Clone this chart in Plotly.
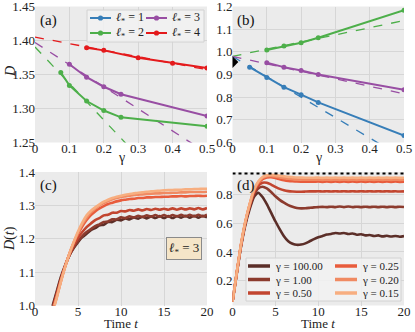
import numpy as np
import plotly.graph_objects as go
from plotly.subplots import make_subplots

# ---------------- panel (a): D vs gamma ----------------
a_gamma_l2 = [0.075, 0.1, 0.15, 0.2, 0.25, 0.5]
a_D_l2 = [1.353, 1.334, 1.311, 1.297, 1.287, 1.274]
a_gamma_l3 = [0.1, 0.15, 0.2, 0.25, 0.5]
a_D_l3 = [1.365, 1.346, 1.332, 1.321, 1.289]
a_gamma_l4 = [0.15, 0.2, 0.3, 0.4, 0.5]
a_D_l4 = [1.3895, 1.3855, 1.3746, 1.3667, 1.3597]
# dashed small-gamma fits, given at gamma = 0 and gamma = 0.5
fit_gamma = [0, 0.5]
a_fit_l2 = [1.3905, 1.122]
a_fit_l3 = [1.397, 1.2345]
a_fit_l4 = [1.405, 1.357]

# ---------------- panel (b) ----------------
b_gamma_l1 = [0.05, 0.1, 0.15, 0.2, 0.25, 0.5]
b_D_l1 = [0.9325, 0.887, 0.844, 0.811, 0.777, 0.631]
b_gamma_l2 = [0.1, 0.15, 0.2, 0.25, 0.5]
b_D_l2 = [1.008, 1.0256, 1.04, 1.0625, 1.184]
b_gamma_l3 = [0.1, 0.15, 0.2, 0.25, 0.5]
b_D_l3 = [0.952, 0.9325, 0.918, 0.900, 0.833]
b_fit_l1 = [0.98, 0.53]
b_fit_l2 = [0.98, 1.138]
b_fit_l3 = [0.98, 0.815]
b_ref_x = [0]
b_ref_y = [0.955]

# ---------------- panel (c): D(t), l* = 3 ----------------
c_t = np.arange(1.5, 20.01, 0.5)
c_g100 = [0.95, 0.995, 1.04, 1.085, 1.12, 1.15, 1.172, 1.19, 1.205, 1.215,
          1.226, 1.232, 1.24, 1.242, 1.25, 1.25, 1.257, 1.255, 1.261, 1.258,
          1.264, 1.26, 1.266, 1.261, 1.267, 1.262, 1.268, 1.262, 1.268, 1.262,
          1.268, 1.263, 1.269, 1.263, 1.269, 1.263, 1.269, 1.264]
c_g1 = [0.945, 0.99, 1.035, 1.08, 1.118, 1.15, 1.174, 1.193, 1.208, 1.22,
        1.229, 1.238, 1.243, 1.25, 1.252, 1.258, 1.258, 1.264, 1.262, 1.267,
        1.264, 1.269, 1.265, 1.27, 1.266, 1.271, 1.266, 1.271, 1.266, 1.271,
        1.267, 1.272, 1.267, 1.272, 1.267, 1.272, 1.267, 1.272]
c_g05 = [0.94, 0.985, 1.03, 1.077, 1.118, 1.152, 1.18, 1.202, 1.22, 1.235,
         1.246, 1.256, 1.262, 1.27, 1.272, 1.278, 1.278, 1.283, 1.282, 1.286,
         1.284, 1.288, 1.285, 1.289, 1.286, 1.29, 1.287, 1.29, 1.287, 1.291,
         1.287, 1.291, 1.288, 1.291, 1.288, 1.292, 1.288, 1.292]
c_g025 = [0.935, 0.98, 1.025, 1.073, 1.117, 1.155, 1.187, 1.214, 1.237, 1.256,
          1.271, 1.282, 1.291, 1.298, 1.304, 1.308, 1.312, 1.315, 1.317, 1.319,
          1.32, 1.322, 1.322, 1.324, 1.324, 1.325, 1.325, 1.326, 1.326, 1.327,
          1.327, 1.328, 1.327, 1.328, 1.328, 1.329, 1.328, 1.329]
c_g02 = [0.932, 0.977, 1.022, 1.071, 1.116, 1.155, 1.189, 1.218, 1.243, 1.263,
         1.279, 1.29, 1.3, 1.307, 1.313, 1.318, 1.322, 1.325, 1.327, 1.329,
         1.331, 1.332, 1.333, 1.334, 1.335, 1.336, 1.336, 1.337, 1.337, 1.338,
         1.338, 1.339, 1.339, 1.34, 1.34, 1.34, 1.34, 1.341]
c_g015 = [0.93, 0.975, 1.02, 1.07, 1.115, 1.155, 1.19, 1.222, 1.248, 1.27,
          1.284, 1.294, 1.303, 1.311, 1.317, 1.322, 1.326, 1.329, 1.332, 1.334,
          1.336, 1.338, 1.339, 1.341, 1.342, 1.343, 1.344, 1.345, 1.346, 1.346,
          1.347, 1.347, 1.348, 1.348, 1.349, 1.349, 1.35, 1.35]

# ---------------- panel (d) ----------------
d_t = np.arange(0, 20.01, 0.5)
d_g100 = [0.05, 0.25, 0.44, 0.59, 0.70, 0.785, 0.815, 0.785, 0.735, 0.675,
          0.615, 0.56, 0.51, 0.475, 0.458, 0.45, 0.452, 0.46, 0.475, 0.49,
          0.503, 0.512, 0.522, 0.526, 0.533, 0.529, 0.533, 0.526, 0.529, 0.521,
          0.524, 0.516, 0.519, 0.512, 0.516, 0.509, 0.513, 0.508, 0.512, 0.507,
          0.511]
d_g1 = [0.05, 0.25, 0.445, 0.6, 0.715, 0.8, 0.845, 0.857, 0.845, 0.82,
        0.79, 0.765, 0.745, 0.728, 0.716, 0.708, 0.705, 0.706, 0.709, 0.712,
        0.714, 0.716, 0.714, 0.717, 0.714, 0.718, 0.714, 0.718, 0.714, 0.717,
        0.714, 0.717, 0.714, 0.717, 0.714, 0.717, 0.714, 0.717, 0.714, 0.717,
        0.715]
d_g05 = [0.05, 0.255, 0.45, 0.605, 0.725, 0.815, 0.865, 0.885, 0.885, 0.872,
         0.856, 0.842, 0.832, 0.826, 0.823, 0.822, 0.822, 0.823, 0.824, 0.824,
         0.825, 0.823, 0.825, 0.823, 0.825, 0.823, 0.825, 0.823, 0.825, 0.823,
         0.825, 0.823, 0.825, 0.823, 0.825, 0.823, 0.825, 0.823, 0.825, 0.823,
         0.824]
d_g025 = [0.05, 0.255, 0.452, 0.61, 0.73, 0.825, 0.88, 0.91, 0.922, 0.924,
          0.918, 0.91, 0.903, 0.898, 0.895, 0.893, 0.892, 0.892, 0.892, 0.892,
          0.893, 0.891, 0.893, 0.891, 0.893, 0.891, 0.893, 0.891, 0.893, 0.891,
          0.893, 0.891, 0.893, 0.891, 0.893, 0.891, 0.893, 0.891, 0.893, 0.891,
          0.892]
d_g02 = [0.05, 0.257, 0.455, 0.612, 0.733, 0.83, 0.888, 0.918, 0.93, 0.932,
         0.928, 0.922, 0.917, 0.913, 0.91, 0.908, 0.907, 0.906, 0.906, 0.906,
         0.907, 0.905, 0.907, 0.905, 0.907, 0.905, 0.907, 0.905, 0.907, 0.905,
         0.907, 0.905, 0.907, 0.905, 0.907, 0.905, 0.907, 0.905, 0.907, 0.905,
         0.906]
d_g015 = [0.05, 0.258, 0.457, 0.615, 0.736, 0.835, 0.893, 0.925, 0.937, 0.94,
          0.938, 0.934, 0.93, 0.926, 0.924, 0.922, 0.921, 0.92, 0.92, 0.92,
          0.921, 0.919, 0.921, 0.919, 0.921, 0.919, 0.921, 0.919, 0.921, 0.919,
          0.921, 0.919, 0.921, 0.919, 0.921, 0.919, 0.921, 0.919, 0.921, 0.919,
          0.92]
d_limit_t = [0, 20]
d_limit = [0.95, 0.95]

gamma_names = ["100.00", "1.00", "0.50", "0.25", "0.20", "0.15"]
gamma_colors = ["#5b2e28", "#8c3b2e", "#c2452f", "#e85c3c", "#f08a62", "#f7ae80"]
c_series = [c_g100, c_g1, c_g05, c_g025, c_g02, c_g015]
d_series = [d_g100, d_g1, d_g05, d_g025, d_g02, d_g015]

BLUE, GREEN, PURPLE, RED = "#377eb8", "#4daf4a", "#984ea3", "#e41a1c"
FONT = "Liberation Serif, DejaVu Serif, serif"
INK = "#222"
W, H = 415, 332

fig = make_subplots(rows=2, cols=2)


def ell(n):
    return f"<i>ℓ</i><sub>*</sub> = {n}"


def solid(x, y, color, name, row, col):
    fig.add_trace(go.Scatter(x=x, y=y, mode="lines+markers", name=name,
                             line=dict(color=color, width=2),
                             marker=dict(color=color, size=5)), row=row, col=col)


def dashed(y, color, row, col):
    fig.add_trace(go.Scatter(x=fit_gamma, y=y, mode="lines",
                             line=dict(color=color, width=1.3, dash="dash")),
                  row=row, col=col)


# (a)
dashed(a_fit_l2, GREEN, 1, 1)
dashed(a_fit_l3, PURPLE, 1, 1)
dashed(a_fit_l4, RED, 1, 1)
solid(a_gamma_l2, a_D_l2, GREEN, "l*=2", 1, 1)
solid(a_gamma_l3, a_D_l3, PURPLE, "l*=3", 1, 1)
solid(a_gamma_l4, a_D_l4, RED, "l*=4", 1, 1)

# (b)
dashed(b_fit_l1, BLUE, 1, 2)
dashed(b_fit_l2, GREEN, 1, 2)
dashed(b_fit_l3, PURPLE, 1, 2)
solid(b_gamma_l1, b_D_l1, BLUE, "l*=1", 1, 2)
solid(b_gamma_l2, b_D_l2, GREEN, "l*=2", 1, 2)
solid(b_gamma_l3, b_D_l3, PURPLE, "l*=3", 1, 2)
fig.add_trace(go.Scatter(x=b_ref_x, y=b_ref_y, mode="markers",
                         marker=dict(color="black", size=9, symbol="diamond")),
              row=1, col=2)

# (c) and (d)
for name, color, yc, yd in zip(gamma_names, gamma_colors, c_series, d_series):
    fig.add_trace(go.Scatter(x=c_t, y=yc, mode="lines", name=f"γ = {name}",
                             line=dict(color=color, width=2.6, shape="spline", smoothing=0.6)),
                  row=2, col=1)
    fig.add_trace(go.Scatter(x=d_t, y=yd, mode="lines", name=f"γ = {name}",
                             line=dict(color=color, width=2.6, shape="spline", smoothing=0.6)),
                  row=2, col=2)
fig.add_trace(go.Scatter(x=d_limit_t, y=d_limit, mode="lines",
                         line=dict(color="black", width=2, dash="dot")), row=2, col=2)

# ---------------- axes ----------------
top = [1 - 142.5 / H, 1 - 6.5 / H]
bottom = [1 - 305.5 / H, 1 - 172 / H]
left = [35 / W, 207 / W]
right = [232.5 / W, 404 / W]

gamma_ticks = [0, 0.1, 0.2, 0.3, 0.4, 0.5]
gamma_ticktext = ["0", "0.1", "0.2", "0.3", "0.4", "0.5"]
time_ticks = [0, 5, 10, 15, 20]

axis_style = dict(showgrid=True, gridcolor="#d6d6d6", gridwidth=0.8, zeroline=False,
                  showline=False, ticks="", automargin=False, ticklabeloverflow="allow",
                  tickfont=dict(family=FONT, size=13, color=INK))

fig.update_xaxes(**axis_style, ticklabelstandoff=-4)
fig.update_yaxes(**axis_style, ticklabelstandoff=-1)

fig.update_layout(
    xaxis=dict(domain=left, range=[0, 0.5], tickvals=gamma_ticks, ticktext=gamma_ticktext),
    yaxis=dict(domain=top, range=[1.25, 1.45], dtick=0.05, tickformat=".2f"),
    xaxis2=dict(domain=right, range=[0, 0.5], tickvals=gamma_ticks, ticktext=gamma_ticktext),
    yaxis2=dict(domain=top, range=[0.6, 1.2], dtick=0.1, tickformat=".1f"),
    xaxis3=dict(domain=left, range=[0, 20], tickvals=time_ticks),
    yaxis3=dict(domain=bottom, range=[1.0, 1.4], dtick=0.1, tickformat=".1f"),
    xaxis4=dict(domain=right, range=[0, 20], tickvals=time_ticks),
    yaxis4=dict(domain=bottom, range=[0.025, 0.96], tickvals=[0.2, 0.4, 0.6, 0.8], tickformat=".1f"),
    width=W, height=H, margin=dict(l=0, r=0, t=0, b=0),
    paper_bgcolor="white", plot_bgcolor="#ebebeb", showlegend=False,
)


def px_x(x):
    return x / W


def px_y(y):
    return 1 - y / H


def text_at(x, y, text, size, angle=0, xanchor="center", yanchor="middle"):
    fig.add_annotation(xref="paper", yref="paper", x=px_x(x), y=px_y(y), text=text,
                       showarrow=False, textangle=angle, xanchor=xanchor, yanchor=yanchor,
                       font=dict(family=FONT, size=size, color=INK))


# axis titles
text_at(121, 158, "γ", 14)
text_at(318, 158, "γ", 14)
text_at(10, 72, "<i>D</i>", 14, angle=-90)
text_at(10, 239, "<i>D</i>(<i>t</i>)", 14, angle=-90)
text_at(121, 323, "Time <i>t</i>", 13)
text_at(318, 323, "Time <i>t</i>", 13)

# panel labels
for ref, label in [("x", "(a)"), ("x2", "(b)"), ("x3", "(c)"), ("x4", "(d)")]:
    fig.add_annotation(xref=f"{ref} domain", yref=f"{ref.replace('x', 'y')} domain",
                       x=0.015, y=0.975, xanchor="left", yanchor="top", showarrow=False,
                       text=label, font=dict(family=FONT, size=15, color="#111"))

fig.add_annotation(xref="x3 domain", yref="y3 domain", x=0.97, y=0.43, xanchor="right",
                   yanchor="middle", showarrow=False, text=ell(3),
                   font=dict(family=FONT, size=13, color=INK),
                   bgcolor="#f5e5c8", bordercolor="#8a8a8a", borderwidth=1, borderpad=2)


# ---------------- legends (boxes of samples + labels, pixel placed) ----------------
def legend_box(x0, y0, x1, y1):
    fig.add_shape(type="rect", xref="paper", yref="paper", layer="above",
                  x0=px_x(x0), x1=px_x(x1), y0=px_y(y1), y1=px_y(y0),
                  fillcolor="rgba(242,242,242,0.85)", line=dict(color="#d2d2d2", width=1))


def legend_item(x0, x1, y, color, label, width, marker, size):
    fig.add_shape(type="line", xref="paper", yref="paper", layer="above",
                  x0=px_x(x0), x1=px_x(x1), y0=px_y(y), y1=px_y(y),
                  line=dict(color=color, width=width))
    if marker:
        xm = (x0 + x1) / 2
        fig.add_shape(type="circle", xref="paper", yref="paper", layer="above",
                      x0=px_x(xm - 2.6), x1=px_x(xm + 2.6), y0=px_y(y + 2.6), y1=px_y(y - 2.6),
                      fillcolor=color, line=dict(color=color, width=0))
    text_at(x1 + 3, y, label, size, xanchor="left")


legend_box(87, 10, 204, 42)
for (x0, x1, y), color, n in zip([(90, 111, 18), (90, 111, 33), (146, 167, 18), (146, 167, 33)],
                                 [BLUE, GREEN, PURPLE, RED], [1, 2, 3, 4]):
    legend_item(x0, x1, y, color, ell(n), 2, True, 12)

legend_box(246, 258, 401, 301)
d_slots = [(248, 270, 266), (248, 270, 279.5), (248, 270, 293),
           (335, 357, 266), (335, 357, 279.5), (335, 357, 293)]
for (x0, x1, y), color, name in zip(d_slots, gamma_colors, gamma_names):
    legend_item(x0, x1, y, color, f"γ = {name}", 3.5, False, 11)

# the page's default body margin would push the 415x332 figure off the window
fig.write_html("out.html", config={"displayModeBar": False},
               post_script="document.body.style.margin='0px';")
